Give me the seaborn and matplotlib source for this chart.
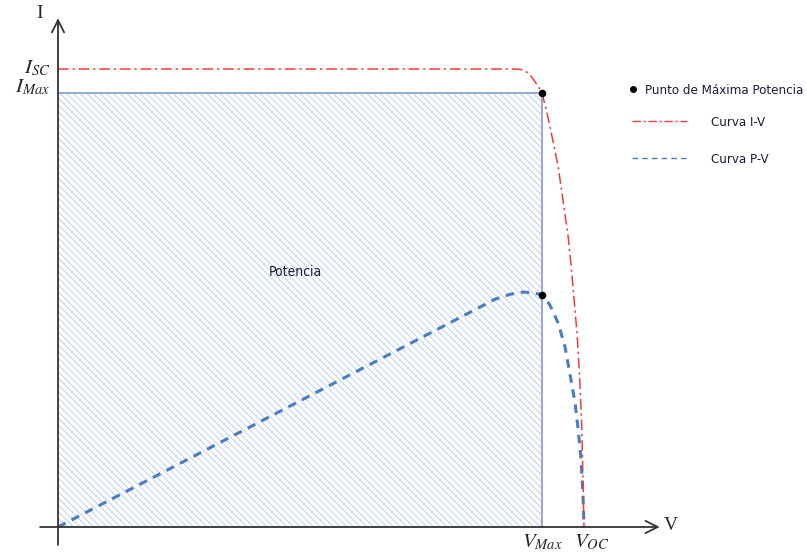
import matplotlib
matplotlib.use("Agg")
import matplotlib.pyplot as plt
from matplotlib.lines import Line2D
import seaborn as sns
import pandas as pd

# ---- data (normalised units: V/Voc, I/Isc) ----
V_oc = 1.0
I_sc = 1.0
V_max = 0.920
I_max = 0.948
P_max_plot = 0.507  # P-V curve height at V_max (scaled to the I axis)

iv_v = [0.0, 0.840, 0.870, 0.880, 0.888, 0.897, 0.907, 0.914, 0.920, 0.929,
        0.941, 0.951, 0.960, 0.970, 0.976, 0.982, 0.987, 0.992, 0.996, 0.998, 1.0]
iv_i = [1.0, 1.0, 1.0, 0.999, 0.996, 0.988, 0.972, 0.960, 0.948, 0.908,
        0.843, 0.786, 0.714, 0.633, 0.565, 0.485, 0.420, 0.321, 0.212, 0.103, 0.0]

pv_v = [0.0, 0.802, 0.830, 0.859, 0.884, 0.905, 0.920, 0.935, 0.951, 0.964,
        0.973, 0.983, 0.989, 0.994, 0.998, 1.0]
pv_p = [0.0, 0.480, 0.497, 0.508, 0.513, 0.511, 0.507, 0.485, 0.445, 0.393,
        0.336, 0.271, 0.212, 0.153, 0.074, 0.0]

mpp_v = [V_max, V_max]
mpp_y = [I_max, P_max_plot]

legend_labels = ["Punto de Máxima Potencia", "Curva I-V", "Curva P-V"]

sns.set_theme(style="white")
plt.rcParams["font.family"] = ["DejaVu Sans"]
plt.rcParams["font.stretch"] = "condensed"
plt.rcParams["mathtext.fontset"] = "stix"
plt.rcParams["hatch.linewidth"] = 0.8

fig = plt.figure(figsize=(8.07, 5.58), dpi=100)
ax = fig.add_axes([0, 0, 1, 1])
ax.set_xlim(-0.1103, 1.4240)
ax.set_ylim(-0.0677, 1.1507)
ax.axis("off")

# power rectangle
ax.fill_between([0, V_max], [I_max, I_max], 0, facecolor="white",
                edgecolor="#c3d5ec", hatch="\\\\\\\\\\", linewidth=0, zorder=1)
ax.plot([0, V_max, V_max], [I_max, I_max, 0], color="#7896c2", lw=1.1, zorder=2)

red = "#f03c3c"
blue = "#4a7dbf"
iv_df = pd.DataFrame({"V": iv_v, "I": iv_i})
pv_df = pd.DataFrame({"V": pv_v, "P": pv_p})
sns.lineplot(data=iv_df, x="V", y="I", sort=False, estimator=None, ax=ax,
             color=red, lw=1.1, linestyle=(0, (7, 2.5, 1.5, 2.5)), zorder=4)
sns.lineplot(data=pv_df, x="V", y="P", sort=False, estimator=None, ax=ax,
             color=blue, lw=2.2, linestyle=(0, (2.8, 2.2)), zorder=3)
sns.scatterplot(x=mpp_v, y=mpp_y, ax=ax, color="black", s=30, zorder=5,
                edgecolor="black", linewidth=0)

# axes arrows
axcol = "#333333"
ax.annotate("", xy=(0, 1.111), xytext=(0, -0.039),
            arrowprops=dict(arrowstyle="->", color=axcol, lw=1.3,
                            mutation_scale=22, shrinkA=0, shrinkB=0), zorder=6)
ax.annotate("", xy=(1.144, 0), xytext=(-0.034, 0),
            arrowprops=dict(arrowstyle="->", color=axcol, lw=1.3,
                            mutation_scale=22, shrinkA=0, shrinkB=0), zorder=6)

serif = ["Liberation Serif", "DejaVu Serif"]
ax.text(-0.036, 1.122, "I", family=serif, fontsize=14, ha="center", va="center",
        stretch="normal")
ax.text(1.152, 0.004, "V", family=serif, fontsize=14, ha="left", va="center",
        stretch="normal")

ax.text(-0.015, I_sc + 0.002, r"$I_{SC}$", fontsize=15, ha="right", va="center")
ax.text(-0.015, I_max + 0.012, r"$I_{Max}$", fontsize=15, ha="right", va="center")
ax.text(V_max, -0.012, r"$V_{Max}$", fontsize=15, ha="center", va="top")
ax.text(V_oc + 0.015, -0.012, r"$V_{OC}$", fontsize=15, ha="center", va="top")

txtcol = "#1c1c3c"
ax.text(0.452, 0.557, "Potencia", fontsize=10, ha="center", va="center",
        color=txtcol)

# legends
h_dot = [Line2D([], [], marker="o", color="black", ls="none", markersize=4)]
leg1 = ax.legend(h_dot, legend_labels[:1], loc="upper left",
                 bbox_to_anchor=(615 / 807, 1 - 72 / 558), frameon=False,
                 fontsize=9.5, handlelength=1.0, handletextpad=0.35,
                 labelcolor=txtcol)
ax.add_artist(leg1)
h_lines = [Line2D([], [], color=red, lw=1.0, ls=(0, (6, 2, 1.5, 2))),
           Line2D([], [], color=blue, lw=1.0, ls=(0, (4, 3)))]
ax.legend(h_lines, legend_labels[1:], loc="upper left",
          bbox_to_anchor=(620 / 807, 1 - 104 / 558), frameon=False,
          fontsize=9.5, handlelength=4.2, handletextpad=1.8, labelspacing=1.8,
          labelcolor=txtcol)

fig.savefig("out.png", dpi=100)
